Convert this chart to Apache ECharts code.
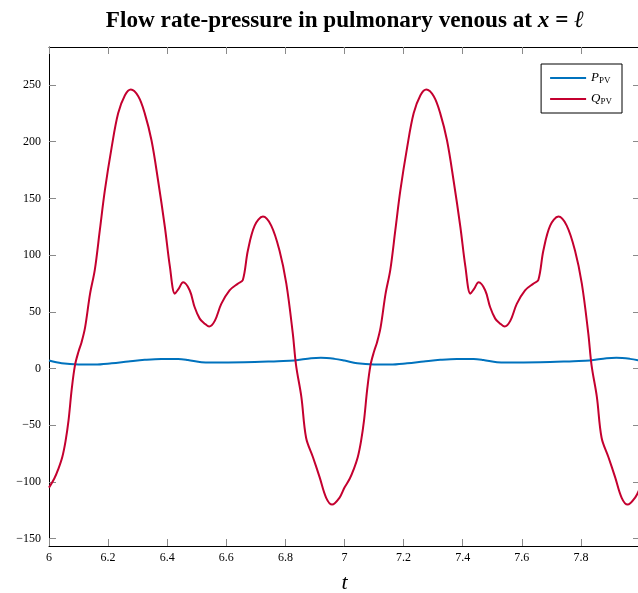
<!DOCTYPE html>
<html>
<head>
<meta charset="utf-8">
<script src="https://cdn.jsdelivr.net/npm/echarts@6/dist/echarts.min.js"></script>
<style>
html,body{margin:0;padding:0;background:#fff;}
#c{width:638px;height:593px;}
</style>
</head>
<body>
<div id="c"></div>
<script>
// ---- data ----
const qTime = [6.000,6.018,6.031,6.045,6.056,6.066,6.077,6.088,6.100,6.110,6.122,6.139,6.155,6.172,6.189,6.212,6.234,6.257,6.277,6.302,6.324,6.347,6.369,6.392,6.409,6.426,6.438,6.454,6.476,6.493,6.510,6.525,6.542,6.561,6.583,6.611,6.640,6.656,6.673,6.696,6.724,6.752,6.780,6.803,6.825,6.836,6.854,6.870,6.893,6.916,6.938,6.958,6.983,
  7.000,7.018,7.031,7.045,7.056,7.066,7.077,7.088,7.100,7.110,7.122,7.139,7.155,7.172,7.189,7.212,7.234,7.257,7.277,7.302,7.324,7.347,7.369,7.392,7.409,7.426,7.438,7.454,7.476,7.493,7.510,7.525,7.542,7.561,7.583,7.611,7.640,7.656,7.673,7.696,7.724,7.752,7.780,7.803,7.825,7.836,7.854,7.870,7.893,7.916,7.938,7.958,7.983,8.000];
const qValues = [-105,-97,-89,-78,-64,-46,-18,3,15,23,36,66,87,122,157,195,225,241,246,240,225,201,166,125,90,66,70,76,69,54,44,40,37,42,57,69,75,78,104,126,134,126,104,75,31,3,-25,-61,-78,-96,-114,-120,-114,
  -105,-97,-89,-78,-64,-46,-18,3,15,23,36,66,87,122,157,195,225,241,246,240,225,201,166,125,90,66,70,76,69,54,44,40,37,42,57,69,75,78,104,126,134,126,104,75,31,3,-25,-61,-78,-96,-114,-120,-114,-105];
const pTime = [6.000,6.043,6.100,6.155,6.212,6.268,6.324,6.380,6.437,6.470,6.516,6.550,6.662,6.775,6.830,6.887,6.920,6.966,
  7.000,7.043,7.100,7.155,7.212,7.268,7.324,7.380,7.437,7.470,7.516,7.550,7.662,7.775,7.830,7.887,7.920,7.966,8.000];
const pValues = [7.0,4.7,3.6,3.5,4.6,6.2,7.7,8.5,8.5,7.6,5.6,5.3,5.6,6.5,7.0,9.1,9.4,8.5,
  7.0,4.7,3.6,3.5,4.6,6.2,7.7,8.5,8.5,7.6,5.6,5.3,5.6,6.5,7.0,9.1,9.4,8.5,7.0];
const yTicks = [-150,-100,-50,0,50,100,150,200,250];
const seriesNames = ['P', 'Q'];

const qData = qTime.map((t,i)=>[t,qValues[i]]);
const pData = pTime.map((t,i)=>[t,pValues[i]]);

const serif = '"Liberation Serif","DejaVu Serif",serif';
const chart = echarts.init(document.getElementById('c'));
const tickStyle = {show:true, inside:true, length:7, lineStyle:{color:'#8a8a8a', width:1}};
const yMin = -156.5, yMax = 283.5;
chart.setOption({
  animation:false,
  backgroundColor:'#fff',
  title:{
    text:'{b|Flow rate-pressure in pulmonary venous at }{m|x}{r| = }{m|ℓ}',
    left:340, top:5, textAlign:'center',
    textStyle:{
      rich:{
        b:{fontFamily:serif, fontWeight:'bold', fontSize:23.2, color:'#000'},
        m:{fontFamily:serif, fontStyle:'italic', fontSize:23.2, color:'#000'},
        r:{fontFamily:serif, fontSize:23.2, color:'#000'}
      }
    }
  },
  legend:{
    right:16, top:64, orient:'vertical',
    data:seriesNames,
    icon:'rect', itemWidth:36, itemHeight:2, itemGap:7,
    borderColor:'#000', borderWidth:1, padding:[7,10,7,9],
    backgroundColor:'#fff',
    formatter:function(n){ return '{i|'+n+'}{s|PV}'; },
    textStyle:{
      rich:{
        i:{fontFamily:serif, fontStyle:'italic', fontSize:13, color:'#000', lineHeight:15},
        s:{fontFamily:serif, fontSize:9, color:'#000', padding:[5,0,0,0], lineHeight:15}
      }
    }
  },
  grid:{left:49, right:-2, top:47, bottom:47, outerBoundsMode:'none', containLabel:false},
  xAxis:[{
    type:'value', min:6, max:8, interval:0.2, position:'bottom',
    axisLine:{show:true, onZero:false, lineStyle:{color:'#000', width:1}},
    axisTick:tickStyle,
    splitLine:{show:false},
    axisLabel:{color:'#000', fontFamily:serif, fontSize:12, margin:6, showMaxLabel:false,
      formatter:v=>String(Math.round(v*10)/10)},
    name:'t', nameLocation:'middle', nameGap:26,
    nameTextStyle:{fontFamily:serif, fontStyle:'italic', fontSize:22, color:'#000'}
  },{
    type:'value', min:6, max:8, interval:0.2, position:'top',
    axisLine:{show:true, onZero:false, lineStyle:{color:'#000', width:1}},
    axisTick:tickStyle, axisLabel:{show:false}, splitLine:{show:false}
  }],
  yAxis:[{
    type:'value', min:yMin, max:yMax, position:'left',
    axisLine:{show:true, onZero:false, lineStyle:{color:'#000', width:1}},
    axisTick:Object.assign({}, tickStyle, {customValues:yTicks}),
    splitLine:{show:false},
    axisLabel:{color:'#000', fontFamily:serif, fontSize:12, margin:8, customValues:yTicks,
      formatter:v=>String(v).replace('-','\u2212')}
  },{
    type:'value', min:yMin, max:yMax, position:'right',
    axisLine:{show:true, onZero:false, lineStyle:{color:'#000', width:1}},
    axisTick:Object.assign({}, tickStyle, {customValues:yTicks}),
    axisLabel:{show:false}, splitLine:{show:false}
  }],
  series:[{
    name:'P', type:'line', data:pData, xAxisIndex:0, yAxisIndex:0,
    symbol:'none', smooth:0.35,
    lineStyle:{color:'#0072bd', width:2}, itemStyle:{color:'#0072bd'}
  },{
    name:'Q', type:'line', data:qData, xAxisIndex:0, yAxisIndex:0,
    symbol:'none', smooth:0.35,
    lineStyle:{color:'#c4002f', width:2}, itemStyle:{color:'#c4002f'}
  }]
});
</script>
</body>
</html>
